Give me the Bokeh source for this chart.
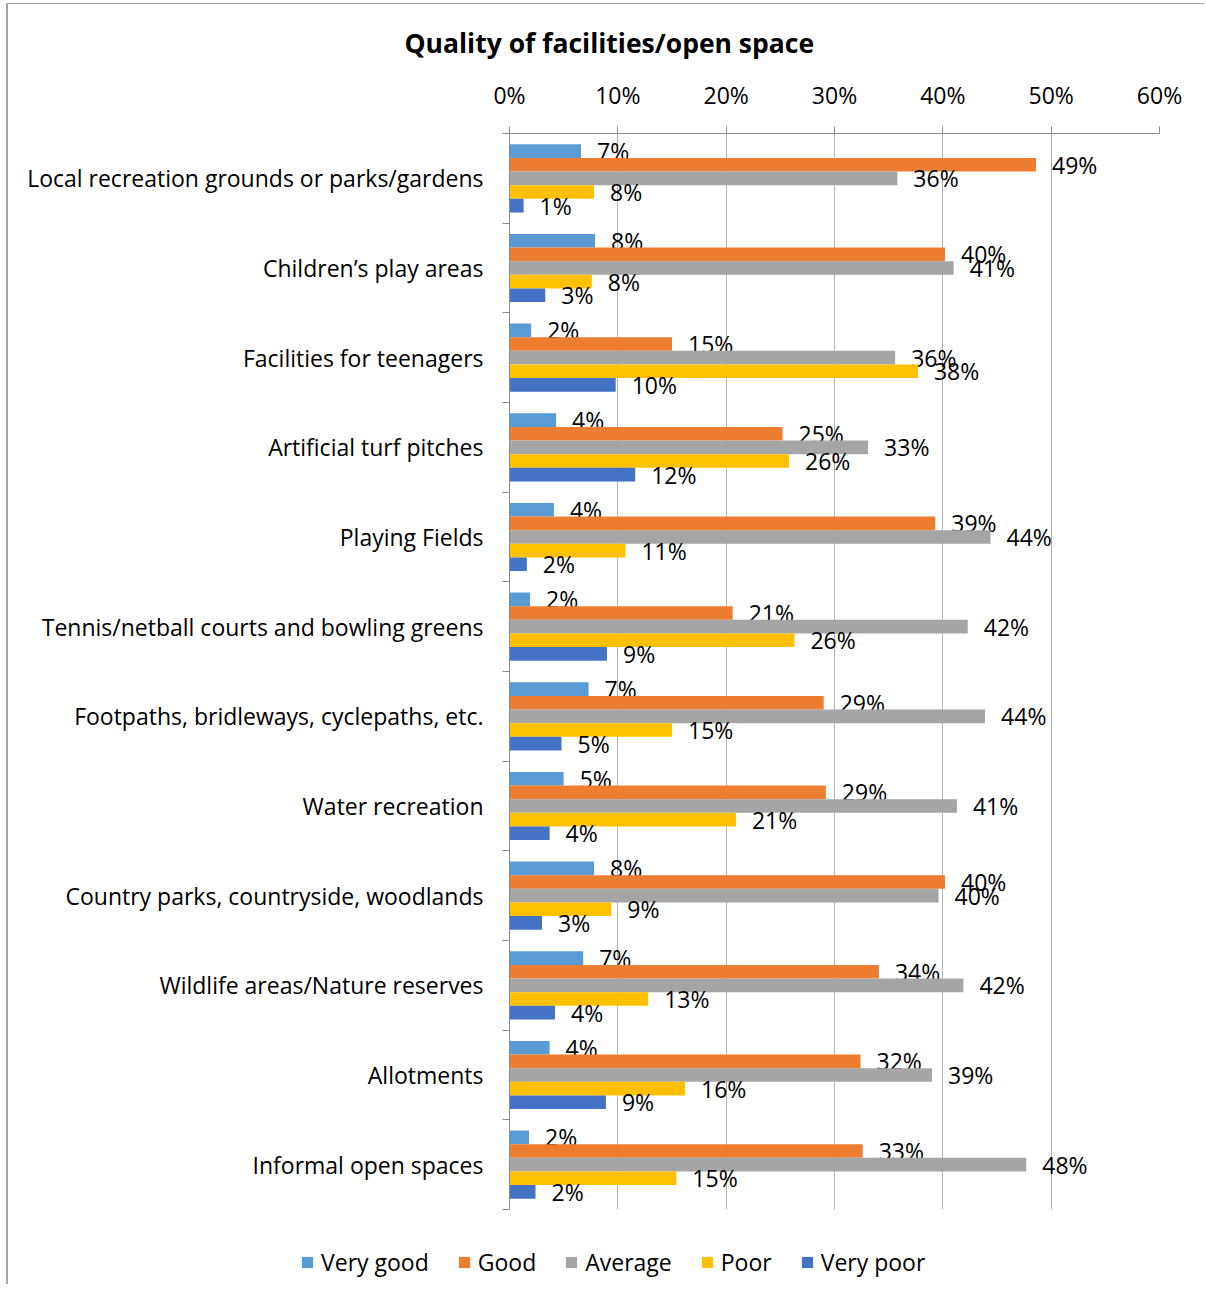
from bokeh.plotting import figure
from bokeh.models import (ColumnDataSource, Range1d, FixedTicker, Legend, LegendItem,
                          PrintfTickFormatter)
from bokeh.transform import dodge
from bokeh.core.properties import value
from bokeh.embed import file_html
from bokeh.resources import INLINE

# ---------------- data ----------------
categories = [
    "Local recreation grounds or parks/gardens",
    "Children\u2019s play areas",
    "Facilities for teenagers",
    "Artificial turf pitches",
    "Playing Fields",
    "Tennis/netball courts and bowling greens",
    "Footpaths, bridleways, cyclepaths, etc.",
    "Water recreation",
    "Country parks, countryside, woodlands",
    "Wildlife areas/Nature reserves",
    "Allotments",
    "Informal open spaces",
]
series_names = ["Very good", "Good", "Average", "Poor", "Very poor"]
very_good = [6.6, 7.9, 2.0, 4.3, 4.1, 1.9, 7.3, 5.0, 7.8, 6.8, 3.7, 1.8]
good      = [48.6, 40.2, 15.0, 25.2, 39.3, 20.6, 29.0, 29.2, 40.2, 34.1, 32.4, 32.6]
average   = [35.8, 41.0, 35.6, 33.1, 44.4, 42.3, 43.9, 41.3, 39.6, 41.9, 39.0, 47.7]
poor      = [7.8, 7.6, 37.7, 25.8, 10.7, 26.3, 15.0, 20.9, 9.4, 12.8, 16.2, 15.4]
very_poor = [1.3, 3.3, 9.8, 11.6, 1.6, 9.0, 4.8, 3.7, 3.0, 4.2, 8.9, 2.4]
x_ticks = [0, 10, 20, 30, 40, 50, 60]

title_text = "Quality of facilities/open space"

# ---------------- style ----------------
colors = ["#5B9BD5", "#ED7D31", "#A5A5A5", "#FFC000", "#4472C4"]
FONT = "Open Sans"
FS = "23px"
axis_color = "#8c8c8c"
grid_color = "#b4b4b4"
frame_border = "#a6a6a6"
bar_h = 0.152

n = len(categories)
# category slots: first category at the top
centers = [n - i - 0.5 for i in range(n)]
bounds = list(range(n + 1))

p = figure(
    width=1198, height=1225,
    y_range=Range1d(0, n),
    x_range=Range1d(x_ticks[0], x_ticks[-1]),
    x_axis_location="above",
    output_backend="svg", toolbar_location=None,
    min_border_left=501, min_border_right=47, min_border_top=129, min_border_bottom=20,
)
p.outline_line_color = None
p.margin = (3, 0, 0, 6)
p.styles = {"border-left": f"2px solid {frame_border}", "border-top": f"1px solid {frame_border}"}

# title
p.title.text = title_text
p.title.align = "left"
p.title.offset = -105
p.title.text_font = FONT
p.title.text_font_size = "26.5px"
p.title.text_font_style = "bold"
p.title.text_color = "#000000"
p.title.standoff = 30

# top x axis
xa = p.xaxis[0]
xa.ticker = FixedTicker(ticks=x_ticks)
xa.formatter = PrintfTickFormatter(format="%d%%")
xa.major_tick_out = 7
xa.major_tick_in = 0
xa.minor_tick_out = 0
xa.minor_tick_in = 0
xa.axis_line_color = axis_color
xa.major_tick_line_color = axis_color
xa.major_label_text_font = FONT
xa.major_label_text_font_size = FS
xa.major_label_text_color = "#000000"
xa.major_label_standoff = 16

p.xgrid.ticker = FixedTicker(ticks=x_ticks)
p.xgrid.grid_line_color = grid_color
p.ygrid.grid_line_color = None

# left axis: labels at category centres, tick marks at category boundaries
ya = p.yaxis[0]
ya.ticker = FixedTicker(ticks=centers, minor_ticks=bounds)
ya.major_label_overrides = {c: name for c, name in zip(centers, categories)}
ya.major_tick_out = 0
ya.major_tick_in = 0
ya.minor_tick_out = 7
ya.minor_tick_in = 0
ya.minor_tick_line_color = axis_color
ya.axis_line_color = axis_color
ya.major_label_standoff = 19
ya.major_label_text_font = FONT
ya.major_label_text_font_size = FS
ya.major_label_text_color = "#000000"

# bars + labels
series_values = [very_good, good, average, poor, very_poor]
for i, (name, vals, col) in enumerate(zip(series_names, series_values, colors)):
    src = ColumnDataSource(dict(y=centers, v=vals,
                                lab=[f"{round(v)}%" for v in vals]))
    off = (2 - i) * bar_h
    p.hbar(y=dodge("y", off), left=0, right="v",
           height=bar_h, fill_color=col, line_color=None, source=src)
    p.text(x="v", y=dodge("y", off), text="lab", source=src,
           x_offset=16, text_baseline="middle", text_align="left",
           text_font=value(FONT), text_font_size=FS, text_color="#000000")

# ---------------- legend strip below the chart (separate root) ----------------
p2 = figure(
    width=1198, height=56,
    x_range=Range1d(0, 1), y_range=Range1d(0, 1),
    x_axis_location=None, y_axis_location=None,
    output_backend="svg", toolbar_location=None,
    min_border=0,
)
p2.outline_line_color = None
p2.grid.visible = False
p2.margin = (0, 0, 0, 6)
p2.styles = {"border-left": f"2px solid {frame_border}"}

key_renderers = []
for name, col in zip(series_names, colors):
    # swatch renderers kept outside the visible range; only their legend keys show
    key_renderers.append(p2.hbar(y=[-5], left=[0], right=[1], height=1,
                                 fill_color=col, line_color=None))

legend = Legend(
    items=[LegendItem(label=nm, renderers=[r]) for nm, r in zip(series_names, key_renderers)],
    orientation="horizontal", location=(292, 6),
    glyph_width=14, glyph_height=14, label_standoff=7, spacing=28,
    padding=0, margin=0, border_line_color=None, background_fill_alpha=0,
    label_text_font=FONT, label_text_font_size=FS, label_text_color="#000000",
)
p2.add_layout(legend, "center")

open("out.html", "w").write(file_html([p, p2], INLINE))
